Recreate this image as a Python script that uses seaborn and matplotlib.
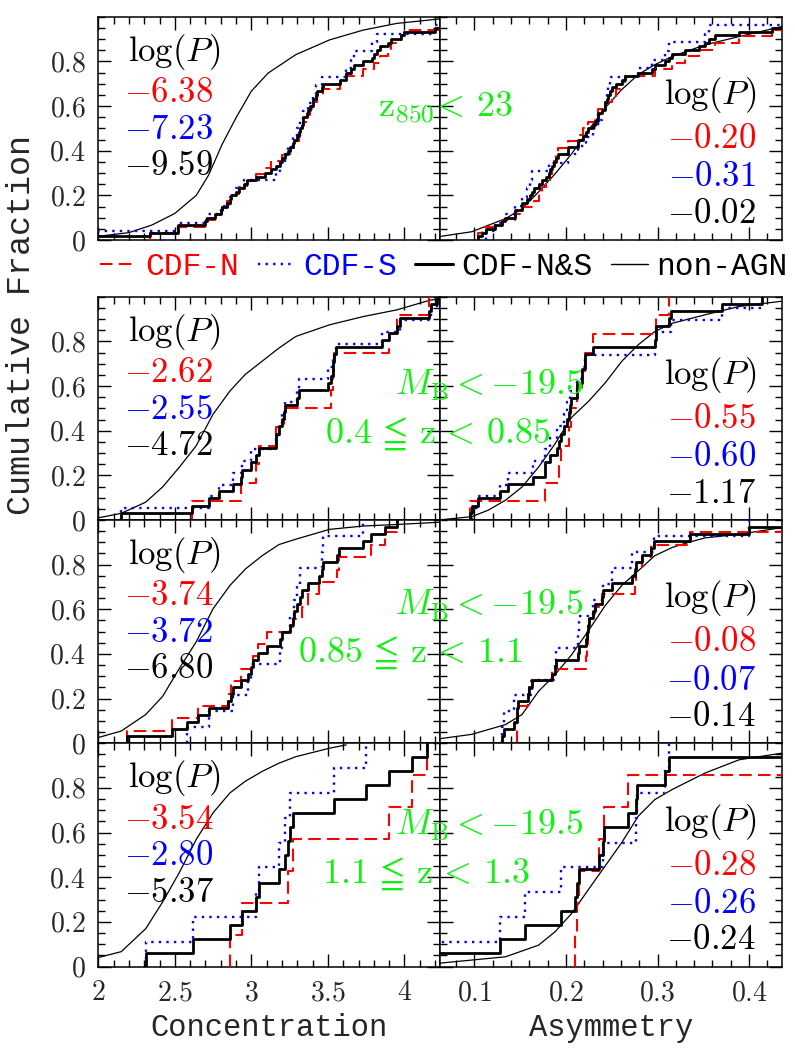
import numpy as np
import pandas as pd
import matplotlib
matplotlib.use("Agg")
import matplotlib.pyplot as plt
import seaborn as sns
from matplotlib.lines import Line2D
from matplotlib.ticker import FixedLocator, MultipleLocator, FuncFormatter

# ---------------- data ----------------
# Row 1 : z850 < 23
conc_N_z850 = [2.34, 2.52, 2.70, 2.76, 2.81, 2.84, 2.87, 2.92, 2.97, 3.03, 3.09, 3.13, 3.20, 3.25, 3.28, 3.31, 3.33,
               3.34, 3.36, 3.38, 3.40, 3.43, 3.47, 3.58, 3.62, 3.73, 3.80, 3.84, 3.89, 3.91, 3.98, 4.00, 4.35, 4.50]
conc_S_z850 = [1.95, 2.52, 2.71, 2.80, 2.86, 2.90, 2.95, 3.16, 3.19, 3.22, 3.24, 3.27, 3.30, 3.32, 3.34, 3.37, 3.40,
               3.42, 3.46, 3.62, 3.65, 3.67, 3.79, 3.82, 4.20, 4.50]
asym_N_z850 = [0.104, 0.108, 0.130, 0.144, 0.152, 0.165, 0.170, 0.174, 0.178, 0.183, 0.185, 0.187, 0.189, 0.191,
               0.202, 0.213, 0.219, 0.224, 0.232, 0.235, 0.243, 0.250, 0.255, 0.261, 0.265, 0.297, 0.316, 0.330,
               0.345, 0.363, 0.389, 0.425, 0.47, 0.55]
asym_S_z850 = [0.113, 0.122, 0.133, 0.144, 0.152, 0.157, 0.161, 0.163, 0.181, 0.202, 0.213, 0.222, 0.230, 0.235,
               0.239, 0.243, 0.245, 0.246, 0.248, 0.279, 0.294, 0.308, 0.312, 0.352, 0.356, 0.50]
conc_ref_x_z850 = [1.98, 2.20, 2.35, 2.50, 2.64, 2.72, 2.81, 2.90, 3.00, 3.11, 3.29, 3.51, 3.73, 3.95, 4.23]
conc_ref_y_z850 = [0.015, 0.033, 0.067, 0.119, 0.20, 0.29, 0.43, 0.548, 0.667, 0.748, 0.83, 0.896, 0.94, 0.97, 0.99]
asym_ref_x_z850 = [0.061, 0.097, 0.134, 0.152, 0.170, 0.188, 0.206, 0.224, 0.243, 0.261, 0.279, 0.297, 0.316,
                   0.352, 0.389, 0.436]
asym_ref_y_z850 = [0.015, 0.037, 0.096, 0.14, 0.215, 0.296, 0.385, 0.489, 0.593, 0.674, 0.741, 0.785, 0.822,
                   0.874, 0.911, 0.956]

# Row 2 : M_B < -19.5, 0.4 <= z < 0.85
conc_N_z04 = [2.61, 2.93, 3.03, 3.05, 3.16, 3.21, 3.52, 3.53, 3.54, 3.90, 3.95, 4.16]
conc_S_z04 = [2.15, 2.72, 2.79, 2.88, 2.94, 3.00, 3.16, 3.18, 3.20, 3.22, 3.30, 3.31, 3.50, 3.53, 3.55, 3.85,
              3.97, 4.17, 4.21]
asym_N_z04 = [0.095, 0.177, 0.192, 0.195, 0.203, 0.205, 0.212, 0.217, 0.221, 0.230, 0.298, 0.312]
asym_S_z04 = [0.097, 0.104, 0.128, 0.137, 0.164, 0.177, 0.183, 0.190, 0.198, 0.201, 0.204, 0.212, 0.218, 0.221,
              0.297, 0.298, 0.315, 0.370, 0.414]
conc_ref_x_z04 = [1.98, 2.15, 2.31, 2.42, 2.53, 2.64, 2.75, 2.86, 2.96, 3.07, 3.18, 3.29, 3.51, 3.73, 3.95, 4.17, 4.23]
conc_ref_y_z04 = [0.007, 0.03, 0.08, 0.148, 0.237, 0.333, 0.474, 0.578, 0.652, 0.711, 0.77, 0.822, 0.874, 0.911,
                  0.941, 0.985, 0.99]
asym_ref_x_z04 = [0.061, 0.097, 0.115, 0.134, 0.152, 0.170, 0.188, 0.206, 0.225, 0.243, 0.261, 0.279, 0.297, 0.316,
                  0.352, 0.389, 0.436]
asym_ref_y_z04 = [0.0, 0.015, 0.044, 0.089, 0.148, 0.237, 0.341, 0.459, 0.533, 0.615, 0.711, 0.785, 0.844, 0.881,
                  0.919, 0.956, 0.98]

# Row 3 : M_B < -19.5, 0.85 <= z < 1.1
conc_N_z085 = [2.19, 2.48, 2.65, 2.85, 2.87, 2.93, 3.01, 3.04, 3.10, 3.27, 3.33, 3.37, 3.44, 3.56, 3.57, 3.78,
               3.87, 3.95]
conc_S_z085 = [2.58, 2.72, 2.88, 2.98, 3.00, 3.19, 3.20, 3.25, 3.28, 3.30, 3.32, 3.46, 3.47, 3.73]
asym_N_z085 = [0.146, 0.147, 0.148, 0.159, 0.160, 0.185, 0.222, 0.223, 0.224, 0.225, 0.232, 0.239, 0.275, 0.276,
               0.283, 0.293, 0.336, 0.47]
asym_S_z085 = [0.130, 0.132, 0.143, 0.163, 0.188, 0.189, 0.213, 0.214, 0.230, 0.240, 0.250, 0.272, 0.296, 0.400]
conc_ref_x_z085 = [1.98, 2.15, 2.31, 2.42, 2.53, 2.64, 2.75, 2.86, 2.96, 3.07, 3.18, 3.29, 3.51, 3.73, 3.95, 4.23]
conc_ref_y_z085 = [0.022, 0.055, 0.129, 0.21, 0.336, 0.455, 0.603, 0.707, 0.78, 0.84, 0.89, 0.914, 0.958, 0.973,
                   0.98, 0.99]
asym_ref_x_z085 = [0.061, 0.097, 0.134, 0.152, 0.170, 0.188, 0.206, 0.225, 0.243, 0.261, 0.279, 0.297, 0.316,
                   0.334, 0.352, 0.389, 0.436]
asym_ref_y_z085 = [0.02, 0.04, 0.084, 0.129, 0.233, 0.307, 0.396, 0.507, 0.618, 0.707, 0.773, 0.84, 0.877, 0.9,
                   0.92, 0.936, 0.966]

# Row 4 : M_B < -19.5, 1.1 <= z < 1.3
conc_N_z11 = [2.86, 2.94, 3.24, 3.27, 3.90, 4.05, 4.15]
conc_S_z11 = [2.31, 2.62, 3.03, 3.05, 3.18, 3.22, 3.25, 3.54, 3.75]
asym_N_z11 = [0.210, 0.212, 0.214, 0.236, 0.241, 0.268, 0.50]
asym_S_z11 = [0.050, 0.128, 0.155, 0.195, 0.240, 0.277, 0.278, 0.308, 0.312]
conc_ref_x_z11 = [1.98, 2.15, 2.31, 2.42, 2.53, 2.64, 2.75, 2.86, 2.96, 3.07, 3.18, 3.29, 3.51, 3.62]
conc_ref_y_z11 = [0.037, 0.067, 0.17, 0.289, 0.422, 0.57, 0.689, 0.778, 0.83, 0.874, 0.911, 0.94, 0.978, 0.993]
asym_ref_x_z11 = [0.061, 0.134, 0.170, 0.188, 0.206, 0.225, 0.243, 0.261, 0.279, 0.297, 0.316, 0.352, 0.389, 0.436]
asym_ref_y_z11 = [0.015, 0.044, 0.096, 0.156, 0.237, 0.348, 0.452, 0.556, 0.674, 0.748, 0.793, 0.867, 0.926, 0.956]

# log(P) of KS tests: [CDF-N, CDF-S, CDF-N&S]
logp_conc = [[-6.38, -7.23, -9.59], [-2.62, -2.55, -4.72], [-3.74, -3.72, -6.80], [-3.54, -2.80, -5.37]]
logp_asym = [[-0.20, -0.31, -0.02], [-0.55, -0.60, -1.17], [-0.08, -0.07, -0.14], [-0.28, -0.26, -0.24]]

sample_line1 = [r"$\mathrm{z}_{850}\!<\,23$", r"$M_{\rm B}<{-}19.5$", r"$M_{\rm B}<{-}19.5$",
                r"$M_{\rm B}<{-}19.5$"]
sample_line2 = [None, r"$0.4\,\leqq\,\mathrm{z}\,<\,0.85$", r"$0.85\,\leqq\,\mathrm{z}\,<\,1.1$",
                r"$1.1\,\leqq\,\mathrm{z}\,<\,1.3$"]
legend_labels = ["CDF-N", "CDF-S", "CDF-N&S", "non-AGN"]
xlabels = ["Concentration", "Asymmetry"]
ylabel = "Cumulative Fraction"

# ---------------- styling ----------------
sns.set_theme(style="white")
plt.rcParams['font.family'] = ['Liberation Mono', 'DejaVu Sans']
plt.rcParams['mathtext.fontset'] = 'cm'
plt.rcParams['axes.linewidth'] = 1.1

RED, BLUE, BLACK, GREEN = '#ff0000', '#0000ff', '#000000', '#14f014'
red_ls = (0, (6, 3))
blue_ls = (0, (1, 2.2))

rows = [
    dict(cN=conc_N_z850, cS=conc_S_z850, cRx=conc_ref_x_z850, cRy=conc_ref_y_z850,
         aN=asym_N_z850, aS=asym_S_z850, aRx=asym_ref_x_z850, aRy=asym_ref_y_z850),
    dict(cN=conc_N_z04, cS=conc_S_z04, cRx=conc_ref_x_z04, cRy=conc_ref_y_z04,
         aN=asym_N_z04, aS=asym_S_z04, aRx=asym_ref_x_z04, aRy=asym_ref_y_z04),
    dict(cN=conc_N_z085, cS=conc_S_z085, cRx=conc_ref_x_z085, cRy=conc_ref_y_z085,
         aN=asym_N_z085, aS=asym_S_z085, aRx=asym_ref_x_z085, aRy=asym_ref_y_z085),
    dict(cN=conc_N_z11, cS=conc_S_z11, cRx=conc_ref_x_z11, cRy=conc_ref_y_z11,
         aN=asym_N_z11, aS=asym_S_z11, aRx=asym_ref_x_z11, aRy=asym_ref_y_z11),
]

W, H = 795, 1059
fig = plt.figure(figsize=(W / 100, H / 100), dpi=100)

col_x = [98.3 / W, 439.7 / W]
col_w = [341.4 / W, 342.3 / W]
row_bottom = [0.77337, 0.50897, 0.29811, 0.08725]
row_h = 0.21086
xlims = [(2.0, 4.23), (0.062, 0.436)]

TICKFS = 20
ANNFS = 25


def fmt_num(v, pos=None):
    if abs(v) < 1e-9:
        return "$0$"
    return f"${v:g}$"


def draw_panel(ax, N, S, Rx, Ry, col, last_row, logp):
    comb = list(N) + list(S)
    sns.lineplot(x=Rx, y=Ry, ax=ax, color=BLACK, lw=0.9, estimator=None, sort=False, zorder=2)
    sns.ecdfplot(x=N, ax=ax, color=RED, linestyle=red_ls, lw=1.5, zorder=3)
    sns.ecdfplot(x=S, ax=ax, color=BLUE, linestyle=blue_ls, lw=1.7, zorder=3)
    sns.ecdfplot(x=comb, ax=ax, color=BLACK, lw=2.0, zorder=4)
    ax.set_xlim(*xlims[col])
    ax.set_ylim(0, 1.0)
    ax.set_xlabel("")
    ax.set_ylabel("")
    ax.yaxis.set_major_locator(FixedLocator([0, 0.2, 0.4, 0.6, 0.8]))
    ax.yaxis.set_minor_locator(MultipleLocator(0.05))
    if col == 0:
        ax.xaxis.set_major_locator(MultipleLocator(0.5))
        ax.xaxis.set_minor_locator(MultipleLocator(0.1))
    else:
        ax.xaxis.set_major_locator(MultipleLocator(0.1))
        ax.xaxis.set_minor_locator(MultipleLocator(0.02))
    ax.tick_params(which='both', direction='in', top=True, right=True, bottom=True, left=True,
                   width=1.0, color='black')
    ax.tick_params(which='major', length=9.5)
    ax.tick_params(which='minor', length=5)
    ax.tick_params(axis='y', labelleft=(col == 0), labelsize=TICKFS, pad=9)
    ax.tick_params(axis='x', labelbottom=last_row, labelsize=TICKFS, pad=10)
    ax.yaxis.set_major_formatter(FuncFormatter(fmt_num))
    ax.xaxis.set_major_formatter(FuncFormatter(fmt_num))
    for sp in ax.spines.values():
        sp.set_visible(True)
        sp.set_color('black')
        sp.set_linewidth(1.1)
    ax.grid(False)
    ax.set_facecolor('white')
    # annotation
    colors = [RED, BLUE, BLACK]
    if col == 0:
        ax.text(0.088, 0.843, r"$\log(P)$", transform=ax.transAxes, ha='left', va='center',
                fontsize=ANNFS, color=BLACK)
        for v, c, yy in zip(logp, colors, [0.66, 0.497, 0.333]):
            ax.text(0.076, yy, f"${v:.2f}$", transform=ax.transAxes, ha='left', va='center',
                    fontsize=ANNFS, color=c)
    else:
        ax.text(0.924, 0.649, r"$\log(P)$", transform=ax.transAxes, ha='right', va='center',
                fontsize=ANNFS, color=BLACK)
        for v, c, yy in zip(logp, colors, [0.455, 0.283, 0.12]):
            ax.text(0.924, yy, f"${v:.2f}$", transform=ax.transAxes, ha='right', va='center',
                    fontsize=ANNFS, color=c)


for r, row in enumerate(rows):
    axL = fig.add_axes([col_x[0], row_bottom[r], col_w[0], row_h])
    axR = fig.add_axes([col_x[1], row_bottom[r], col_w[1], row_h])
    draw_panel(axL, row['cN'], row['cS'], row['cRx'], row['cRy'], 0, r == 3, logp_conc[r])
    draw_panel(axR, row['aN'], row['aS'], row['aRx'], row['aRy'], 1, r == 3, logp_asym[r])

# green sample labels (figure pixel positions of reference)
line1_pos = [(378, 117), (395, 395), (395, 615), (395, 835)]
line2_pos = [None, (325, 443), (298, 662), (322, 883)]
for r in range(4):
    x, y = line1_pos[r]
    fig.text(x / W, 1 - y / H, sample_line1[r], ha='left', va='baseline', fontsize=ANNFS + 1, color=GREEN,
             zorder=10)
    if sample_line2[r] is not None:
        x, y = line2_pos[r]
        fig.text(x / W, 1 - y / H, sample_line2[r], ha='left', va='baseline', fontsize=ANNFS + 1, color=GREEN,
                 zorder=10)

# legend
handles = [Line2D([], [], color=RED, ls=red_ls, lw=1.5),
           Line2D([], [], color=BLUE, ls=blue_ls, lw=1.7),
           Line2D([], [], color=BLACK, lw=2.2),
           Line2D([], [], color=BLACK, lw=1.0)]
leg = fig.legend(handles, legend_labels, ncol=4, loc='center', bbox_to_anchor=(0.558, 1 - 267 / H),
                 frameon=False, handlelength=1.2, handletextpad=0.25, columnspacing=0.6,
                 prop={'family': 'Liberation Mono', 'size': 22.5})
for t, c in zip(leg.get_texts(), [RED, BLUE, BLACK, BLACK]):
    t.set_color(c)

# axis labels
fig.text(269 / W, 1 - 1028 / H, xlabels[0], ha='center', va='center', fontsize=22, family='Liberation Mono')
fig.text(611 / W, 1 - 1028 / H, xlabels[1], ha='center', va='center', fontsize=22, family='Liberation Mono')
fig.text(22 / W, 1 - 325 / H, ylabel, ha='center', va='center', rotation=90, fontsize=24,
         family='Liberation Mono')

fig.savefig("out.png", dpi=100, facecolor='white')
